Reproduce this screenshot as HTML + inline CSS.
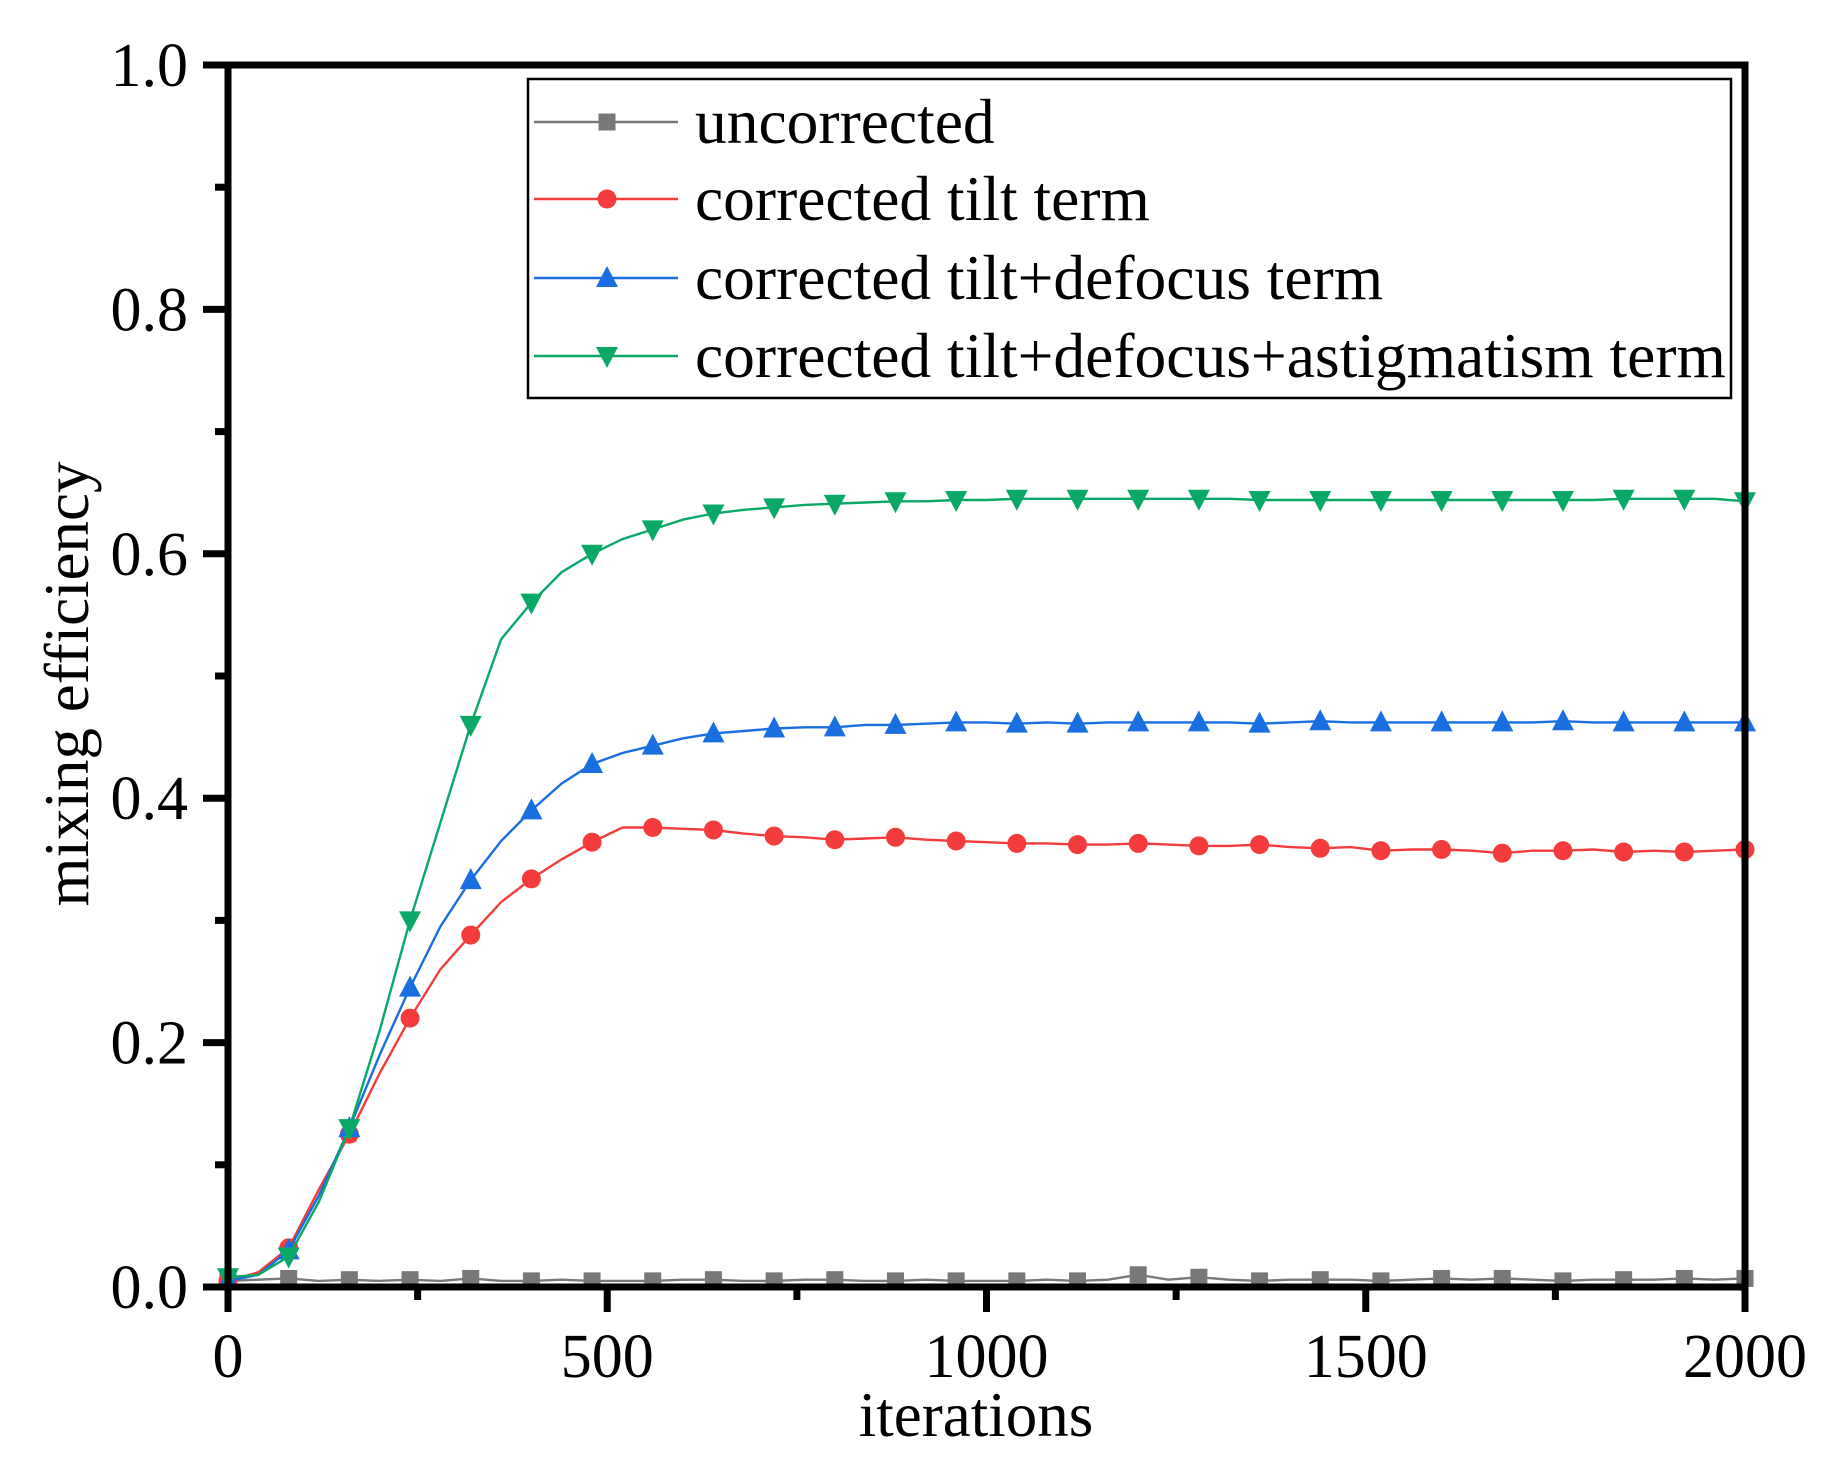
<!DOCTYPE html>
<html><head><meta charset="utf-8"><style>
html,body{margin:0;padding:0;background:#fff;}
svg{display:block;font-family:"Liberation Serif","Times New Roman",serif;}
</style></head><body>
<svg id="chart" width="1833" height="1482" viewBox="0 0 1833 1482" xmlns="http://www.w3.org/2000/svg">
<g id="plot"></g>
<g id="axes"></g>
<g id="legend"></g>
</svg>
<script>
const iterations = [0,40,80,120,160,200,240,280,320,360,400,440,480,520,560,600,640,680,720,760,800,840,880,920,960,1000,1040,1080,1120,1160,1200,1240,1280,1320,1360,1400,1440,1480,1520,1560,1600,1640,1680,1720,1760,1800,1840,1880,1920,1960,2000];
const uncorrected = [0.005,0.006,0.007,0.005,0.006,0.005,0.006,0.005,0.007,0.005,0.005,0.006,0.005,0.005,0.005,0.006,0.006,0.005,0.005,0.006,0.006,0.005,0.005,0.006,0.005,0.005,0.005,0.006,0.005,0.006,0.01,0.006,0.008,0.006,0.005,0.006,0.006,0.006,0.005,0.006,0.007,0.006,0.007,0.006,0.005,0.006,0.006,0.006,0.007,0.006,0.007];
const tiltSeries = [0.005,0.012,0.032,0.08,0.125,0.175,0.22,0.26,0.288,0.315,0.334,0.35,0.364,0.376,0.376,0.375,0.374,0.371,0.369,0.368,0.366,0.367,0.368,0.366,0.365,0.364,0.363,0.363,0.362,0.362,0.363,0.362,0.361,0.361,0.362,0.36,0.359,0.36,0.357,0.358,0.358,0.357,0.355,0.357,0.357,0.358,0.356,0.357,0.356,0.357,0.358];
const defocusSeries = [0.005,0.01,0.03,0.075,0.13,0.19,0.245,0.295,0.333,0.365,0.39,0.412,0.428,0.437,0.443,0.449,0.453,0.455,0.457,0.458,0.458,0.46,0.46,0.461,0.462,0.462,0.461,0.462,0.461,0.462,0.462,0.462,0.462,0.462,0.461,0.462,0.463,0.462,0.462,0.462,0.462,0.462,0.462,0.462,0.463,0.462,0.462,0.462,0.462,0.462,0.462];
const astigSeries = [0.008,0.01,0.025,0.07,0.13,0.21,0.30,0.38,0.46,0.53,0.56,0.585,0.60,0.612,0.62,0.628,0.633,0.636,0.638,0.64,0.641,0.642,0.643,0.643,0.644,0.644,0.645,0.645,0.645,0.645,0.645,0.645,0.645,0.645,0.644,0.644,0.644,0.644,0.644,0.644,0.644,0.644,0.644,0.644,0.644,0.644,0.645,0.645,0.645,0.645,0.643];
const xTicks = [0,500,1000,1500,2000];
const yTicks = [0,0.2,0.4,0.6,0.8,1.0];
const yTickLabels = ["0.0","0.2","0.4","0.6","0.8","1.0"];
const legendLabels = ["uncorrected","corrected tilt term","corrected tilt+defocus term","corrected tilt+defocus+astigmatism term"];

const NS="http://www.w3.org/2000/svg";
const X0=228,X1=1745,Y0=1287,Y1=65;
function sx(v){return X0+(v/2000)*(X1-X0);}
function sy(v){return Y0-(v/1.0)*(Y0-Y1);}
function mk(tag,attrs,parent){const e=document.createElementNS(NS,tag);for(const k in attrs)e.setAttribute(k,attrs[k]);parent.appendChild(e);return e;}
const plot=document.getElementById('plot'),axes=document.getElementById('axes'),legend=document.getElementById('legend');

const series=[
 {name:'uncorrected',data:uncorrected,color:'#787878',m:'square'},
 {name:'tilt',data:tiltSeries,color:'#f43c3c',m:'circle'},
 {name:'tilt-defocus',data:defocusSeries,color:'#1a6fe0',m:'up'},
 {name:'tilt-defocus-astigmatism',data:astigSeries,color:'#0aa866',m:'down'}
];
function marker(type,x,y,color,parent,name){
 let e;
 if(type==='square'){e=mk('rect',{x:x-8.5,y:y-8.5,width:17,height:17,fill:color},parent);}
 else if(type==='circle'){e=mk('circle',{cx:x,cy:y,r:9.5,fill:color},parent);}
 else if(type==='up'){e=mk('polygon',{points:`${x},${y-12} ${x+11},${y+9} ${x-11},${y+9}`,fill:color},parent);}
 else {e=mk('polygon',{points:`${x},${y+12} ${x+11},${y-9} ${x-11},${y-9}`,fill:color},parent);}
 
 
 return e;
}
series.forEach(s=>{
 const d=s.data.map((v,i)=>(i?'L':'M')+sx(iterations[i]).toFixed(1)+','+sy(v).toFixed(1)).join(' ');
 const p=mk('path',{d:d,fill:'none',stroke:s.color,'stroke-width':2.4},plot);
 
 
 s.data.forEach((v,i)=>{ if(i%2===0) marker(s.m,sx(iterations[i]),sy(v),s.color,plot,'marker-'+s.name); });
});

const fr=mk('rect',{x:X0,y:Y1,width:X1-X0,height:Y0-Y1,fill:'none',stroke:'#000','stroke-width':7},axes);


for(let i=0;i<=10;i++){
 const v=i/10, y=sy(v), major=i%2===0;
 const t=mk('line',{x1:X0-(major?25:13),x2:X0,y1:y,y2:y,stroke:'#000','stroke-width':7},axes);
 
 
}
yTicks.forEach((v,i)=>{
 const t=mk('text',{x:188,y:sy(v)+21,'text-anchor':'end','font-size':62},axes);
 t.textContent=yTickLabels[i];
 
 
});
for(let i=0;i<=8;i++){
 const v=i*250, x=sx(v), major=i%2===0;
 const t=mk('line',{x1:x,x2:x,y1:Y0,y2:Y0+(major?25:13),stroke:'#000','stroke-width':7},axes);
 
 
}
xTicks.forEach(v=>{
 const t=mk('text',{x:sx(v),y:1377,'text-anchor':'middle','font-size':62},axes);
 t.textContent=String(v);
 
 
});
const xt=mk('text',{x:976,y:1436,'text-anchor':'middle','font-size':63},axes);
xt.textContent='iterations';


const yt=mk('text',{x:0,y:0,'text-anchor':'middle','font-size':63,transform:'translate(88,684) rotate(-90)'},axes);
yt.textContent='mixing efficiency';



const lb=mk('rect',{x:528,y:79,width:1203,height:319,fill:'#fff',stroke:'#000','stroke-width':2.5},legend);


const rows=[122,199,278,356];
series.forEach((s,i)=>{
 const g=mk('g',{},legend);
 
 
 mk('line',{x1:534,x2:678,y1:rows[i],y2:rows[i],stroke:s.color,'stroke-width':2.5},g);
 marker(s.m,607,rows[i],s.color,g,'legend-marker');
 const t=mk('text',{x:695,y:rows[i]+21,'font-size':63.5},g);
 t.textContent=legendLabels[i];
 
 
});
</script>
</body></html>
